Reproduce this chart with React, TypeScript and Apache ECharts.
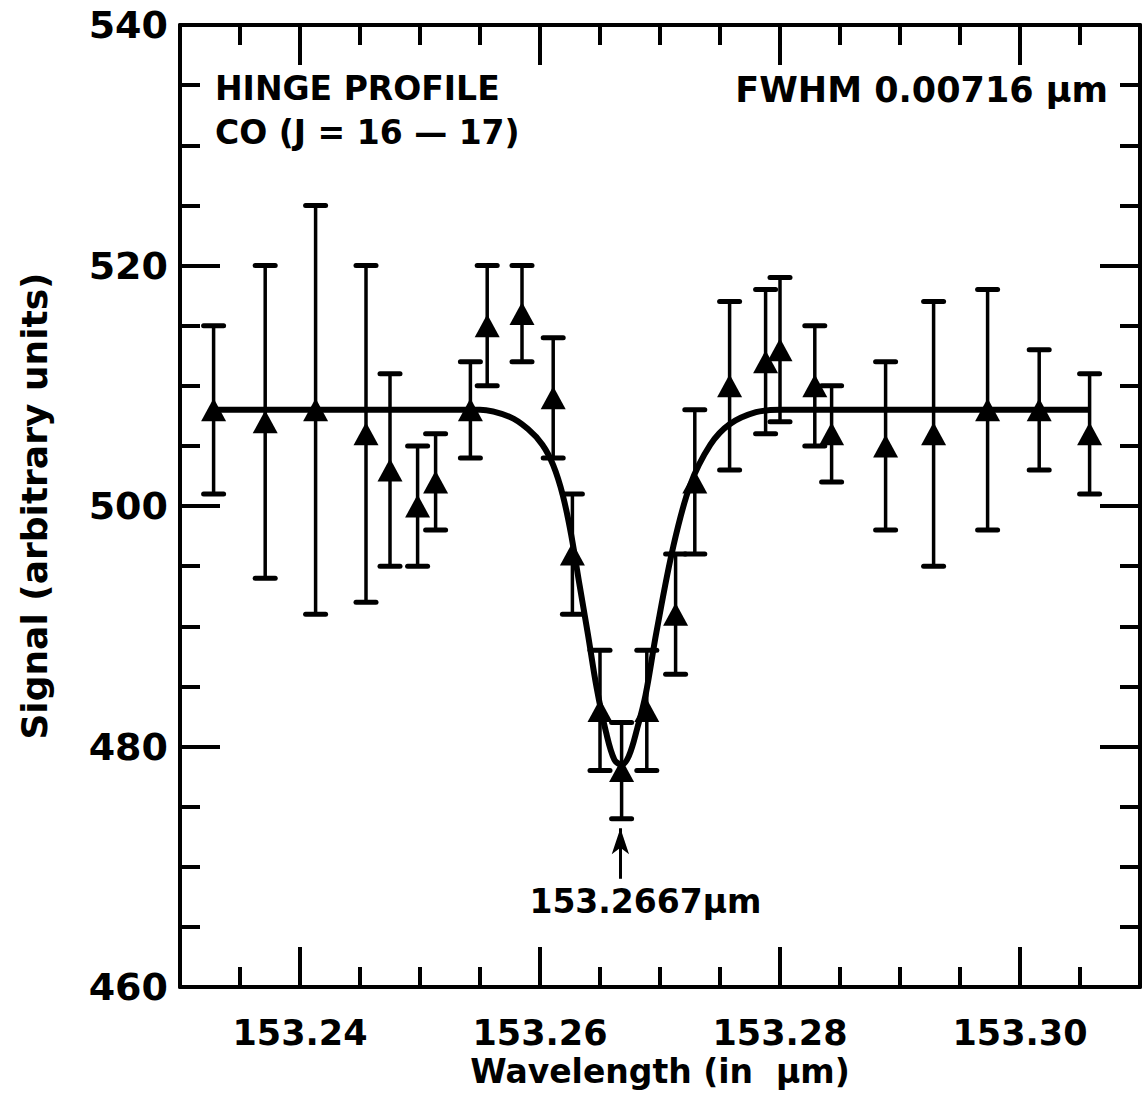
import React, { useEffect, useRef } from "react";
import * as echarts from "echarts";

// ---- data ----
const wavelength = [
  153.2328, 153.2371, 153.2413, 153.2455, 153.2475, 153.2498, 153.2513, 153.2542, 153.2556,
  153.2585, 153.2611, 153.2627, 153.265, 153.2668, 153.2689, 153.2713, 153.2729, 153.2758,
  153.2788, 153.28, 153.2829, 153.2843, 153.2888, 153.2928, 153.2973, 153.3016, 153.3058,
];
const signal = [
  508, 507, 508, 506, 503, 500, 502, 508, 515, 516, 509, 496, 483, 478, 483, 491, 502, 510, 512,
  513, 510, 506, 505, 506, 508, 508, 506,
];
const errLow = [
  501, 494, 491, 492, 495, 495, 498, 504, 510, 512, 504, 491, 478, 474, 478, 486, 496, 503, 506,
  507, 505, 502, 498, 495, 498, 503, 501,
];
const errHigh = [
  515, 520, 525, 520, 511, 505, 506, 512, 520, 520, 514, 501, 488, 482, 488, 496, 508, 517, 518,
  519, 515, 510, 512, 517, 518, 513, 511,
];
const fitWavelength = [
  153.2328, 153.255, 153.2575, 153.259, 153.2602, 153.2611, 153.2619, 153.2626, 153.2633,
  153.264, 153.2647, 153.2655, 153.2662, 153.2668, 153.2674, 153.2681, 153.2688, 153.2697,
  153.2711, 153.2725, 153.2742, 153.2758, 153.278, 153.28, 153.3058,
];
const fitSignal = [
  508, 508, 507.4, 506.4, 505.1, 503.4, 500.9, 497.6, 493.4, 489.3, 485.0, 481.2, 478.9, 478.5,
  479.2, 481.5, 484.3, 489.5, 496.6, 501.7, 505.1, 506.8, 507.8, 508, 508,
];
const xMajorTicks = [153.24, 153.26, 153.28, 153.3];
const xMinorTicks = [
  153.235, 153.245, 153.25, 153.255, 153.265, 153.27, 153.275, 153.285, 153.29, 153.295, 153.305,
];
const yMajorTicks = [460, 480, 500, 520, 540];
const yMinorTicks = [465, 470, 475, 485, 490, 495, 505, 510, 515, 525, 530, 535];
const peakWavelength = 153.2667;
const arrowFrom = 469;
const arrowTo = 473.2;
const peakLabel = "153.2667μm";

const FONT = "'DejaVu Sans', sans-serif";
const INK = "#000";

function xAxisDef(position: "top" | "bottom", ticks: number[], len: number, main: boolean, labels: boolean) {
  return {
    type: "value",
    position,
    min: 153.23,
    max: 153.31,
    axisLine: { show: main, lineStyle: { color: INK, width: 4 } },
    axisTick: {
      show: true,
      inside: true,
      length: len,
      customValues: ticks,
      lineStyle: { color: INK, width: 4 },
    },
    axisLabel: labels
      ? {
          show: true,
          customValues: xMajorTicks,
          formatter: (v: number) => v.toFixed(2),
          color: INK,
          fontFamily: FONT,
          fontWeight: "bold",
          fontSize: 35,
          margin: 28,
        }
      : { show: false },
    splitLine: { show: false },
    name: labels ? "Wavelength (in  μm)" : "",
    nameLocation: "middle",
    nameGap: 62,
    nameTextStyle: { color: INK, fontFamily: FONT, fontWeight: "bold", fontSize: 33 },
  };
}

function yAxisDef(position: "left" | "right", ticks: number[], len: number, main: boolean, labels: boolean) {
  return {
    type: "value",
    position,
    min: 460,
    max: 540,
    axisLine: { show: main, lineStyle: { color: INK, width: 4 } },
    axisTick: {
      show: true,
      inside: true,
      length: len,
      customValues: ticks,
      lineStyle: { color: INK, width: 4 },
    },
    axisLabel: labels
      ? {
          show: true,
          customValues: yMajorTicks,
          color: INK,
          fontFamily: FONT,
          fontWeight: "bold",
          fontSize: 38,
          margin: 12,
        }
      : { show: false },
    splitLine: { show: false },
    name: labels ? "Signal (arbitrary units)" : "",
    nameLocation: "middle",
    nameGap: 128,
    nameTextStyle: { color: INK, fontFamily: FONT, fontWeight: "bold", fontSize: 36 },
  };
}

export default function App() {
  const ref = useRef<HTMLDivElement>(null);

  useEffect(() => {
    if (!ref.current) return;
    const chart = echarts.init(ref.current, null, { renderer: "svg" });

    const errData = wavelength.map((x, i) => [x, errLow[i], errHigh[i]]);
    const pointData = wavelength.map((x, i) => [x, signal[i]]);
    const fitData = fitWavelength.map((x, i) => [x, fitSignal[i]]);

    const option: any = {
      animation: false,
      backgroundColor: "#fff",
      textStyle: { fontFamily: FONT, color: INK },
      grid: { left: 180, right: 8, top: 25, bottom: 109, containLabel: false },
      xAxis: [
        xAxisDef("bottom", xMajorTicks, 40, true, true),
        xAxisDef("bottom", xMinorTicks, 20, false, false),
        xAxisDef("top", xMajorTicks, 40, true, false),
        xAxisDef("top", xMinorTicks, 20, false, false),
      ],
      yAxis: [
        yAxisDef("left", yMajorTicks, 40, true, true),
        yAxisDef("left", yMinorTicks, 20, false, false),
        yAxisDef("right", yMajorTicks, 40, true, false),
        yAxisDef("right", yMinorTicks, 20, false, false),
      ],
      series: [
        {
          type: "line",
          data: fitData,
          xAxisIndex: 0,
          yAxisIndex: 0,
          showSymbol: false,
          smooth: 0.35,
          lineStyle: { color: INK, width: 6 },
          z: 2,
          silent: true,
        },
        {
          type: "custom",
          xAxisIndex: 0,
          yAxisIndex: 0,
          data: errData,
          encode: { x: 0, y: [1, 2] },
          z: 3,
          silent: true,
          renderItem: (_params: any, api: any) => {
            const x = api.value(0);
            const pLo = api.coord([x, api.value(1)]);
            const pHi = api.coord([x, api.value(2)]);
            const half = 10;
            return {
              type: "group",
              children: [
                {
                  type: "line",
                  shape: { x1: pLo[0], y1: pLo[1], x2: pHi[0], y2: pHi[1] },
                  style: { stroke: INK, lineWidth: 3.5 },
                },
                {
                  type: "line",
                  shape: { x1: pLo[0] - half, y1: pLo[1], x2: pLo[0] + half, y2: pLo[1] },
                  style: { stroke: INK, lineWidth: 5, lineCap: "round" },
                },
                {
                  type: "line",
                  shape: { x1: pHi[0] - half, y1: pHi[1], x2: pHi[0] + half, y2: pHi[1] },
                  style: { stroke: INK, lineWidth: 5, lineCap: "round" },
                },
              ],
            };
          },
        },
        {
          type: "scatter",
          xAxisIndex: 0,
          yAxisIndex: 0,
          data: pointData,
          symbol: "triangle",
          symbolSize: [25, 23],
          itemStyle: { color: INK, opacity: 1 },
          z: 4,
          silent: true,
          markLine: {
            silent: true,
            symbol: ["none", "arrow"],
            symbolSize: [13, 26],
            lineStyle: { color: INK, width: 3, type: "solid" },
            label: {
              show: true,
              position: "start",
              formatter: peakLabel,
              color: INK,
              fontFamily: FONT,
              fontWeight: "bold",
              fontSize: 33,
              distance: 6,
              padding: [0, 0, 0, 50],
            },
            data: [[{ coord: [peakWavelength, arrowFrom] }, { coord: [peakWavelength, arrowTo] }]],
          },
        },
      ],
      graphic: [
        {
          type: "text",
          left: 215,
          top: 72,
          style: { text: "HINGE PROFILE", fill: INK, font: `bold 33px ${FONT}` },
        },
        {
          type: "text",
          left: 215,
          top: 116,
          style: { text: "CO (J = 16 — 17)", fill: INK, font: `bold 33px ${FONT}` },
        },
        {
          type: "text",
          right: 40,
          top: 72,
          style: { text: "FWHM 0.00716 μm", fill: INK, font: `bold 35px ${FONT}` },
        },
      ],
    };

    chart.setOption(option);
    return () => chart.dispose();
  }, []);

  return (
    <div
      ref={ref}
      style={{ position: "absolute", left: 0, top: 0, width: 1148, height: 1096, background: "#fff" }}
    />
  );
}
